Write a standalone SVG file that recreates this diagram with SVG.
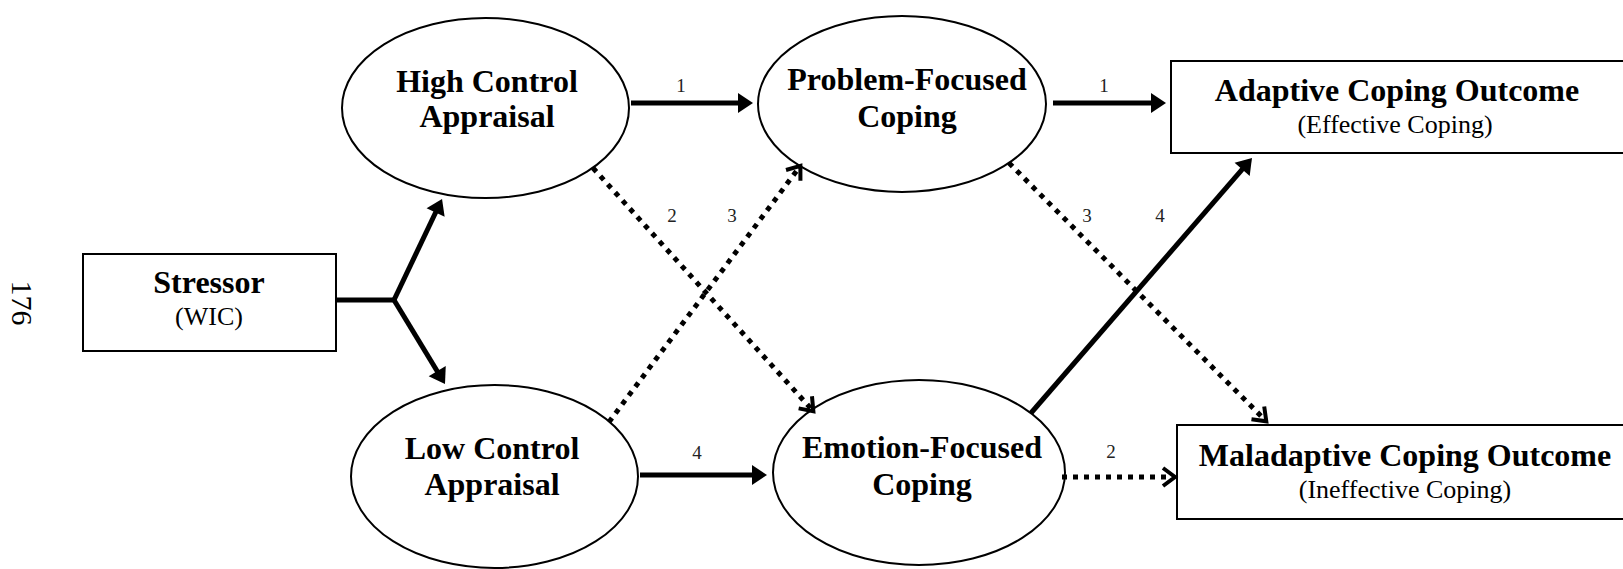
<svg xmlns="http://www.w3.org/2000/svg" width="1623" height="569" viewBox="0 0 1623 569">
<style>
.t{font-family:"Liberation Serif","Times New Roman",serif;fill:#000;text-anchor:middle}
.b{font-weight:bold;font-size:32px}
.s{font-size:26px}
.n{font-size:19px;fill:#222}
.shape{fill:#fff;stroke:#000;stroke-width:2}
.solid{fill:none;stroke:#000;stroke-width:5;marker-end:url(#ah)}
.dot{fill:none;stroke:#000;stroke-width:5;stroke-dasharray:5 6;marker-end:url(#ch)}
</style>
<defs>
<marker id="ah" markerUnits="userSpaceOnUse" markerWidth="16" markerHeight="22" refX="10" refY="10" orient="auto" overflow="visible">
<path d="M0,0 L15,10 L0,20 z" fill="#000"/>
</marker>
<marker id="ch" markerUnits="userSpaceOnUse" markerWidth="18" markerHeight="22" refX="12" refY="10" orient="auto" overflow="visible">
<path d="M1,1 L13,10 L1,19" fill="none" stroke="#000" stroke-width="4"/>
</marker>
</defs>
<rect width="1623" height="569" fill="#fff"/>
<text class="t" font-size="30" x="12" y="303" transform="rotate(90 12 303)">176</text>

<g id="stressor">
<rect class="shape" x="83" y="254" width="253" height="97"/>
<text class="t b" x="209" y="293">Stressor</text>
<text class="t s" x="209" y="325">(WIC)</text>
</g>
<g id="high-control">
<ellipse class="shape" cx="485.5" cy="108" rx="143.5" ry="90"/>
<text class="t b" x="487" y="92">High Control</text>
<text class="t b" x="487" y="127">Appraisal</text>
</g>
<g id="low-control">
<ellipse class="shape" cx="494.5" cy="476.5" rx="143.5" ry="91.5"/>
<text class="t b" x="492" y="459">Low Control</text>
<text class="t b" x="492" y="495">Appraisal</text>
</g>
<g id="problem-focused">
<ellipse class="shape" cx="902" cy="104" rx="144" ry="88"/>
<text class="t b" x="907" y="90">Problem-Focused</text>
<text class="t b" x="907" y="127">Coping</text>
</g>
<g id="emotion-focused">
<ellipse class="shape" cx="919" cy="472.5" rx="146" ry="92.5"/>
<text class="t b" x="922" y="458">Emotion-Focused</text>
<text class="t b" x="922" y="495">Coping</text>
</g>
<g id="adaptive">
<rect class="shape" x="1171" y="61" width="470" height="92"/>
<text class="t b" x="1397" y="101">Adaptive Coping Outcome</text>
<text class="t s" x="1395" y="133">(Effective Coping)</text>
</g>
<g id="maladaptive">
<rect class="shape" x="1177" y="425" width="470" height="94"/>
<text class="t b" x="1405" y="466">Maladaptive Coping Outcome</text>
<text class="t s" x="1405" y="498">(Ineffective Coping)</text>
</g>

<g id="connectors">
<path d="M336,300 L394,300" fill="none" stroke="#000" stroke-width="5"/>
<path class="solid" d="M394,300 L439.9,203.5"/>
<path class="solid" d="M394,300 L442.4,379.7"/>
<path class="solid" d="M631,103 L748,103"/>
<path class="solid" d="M1053,103 L1161,103"/>
<path class="solid" d="M640,475 L762,475"/>
<path class="solid" d="M1031,413 L1248.7,161.8"/>
<path class="dot" d="M1062,477 L1174,477"/>
<path class="dot" d="M593,168 L812.7,410.5"/>
<path class="dot" d="M609,422 L799.8,166.6"/>
<path class="dot" d="M1009,163 L1265.6,420.6"/>
<text class="t n" x="681" y="92">1</text>
<text class="t n" x="1104" y="92">1</text>
<text class="t n" x="697" y="459">4</text>
<text class="t n" x="1111" y="458">2</text>
<text class="t n" x="672" y="222">2</text>
<text class="t n" x="732" y="222">3</text>
<text class="t n" x="1087" y="222">3</text>
<text class="t n" x="1160" y="222">4</text>
</g>
</svg>
